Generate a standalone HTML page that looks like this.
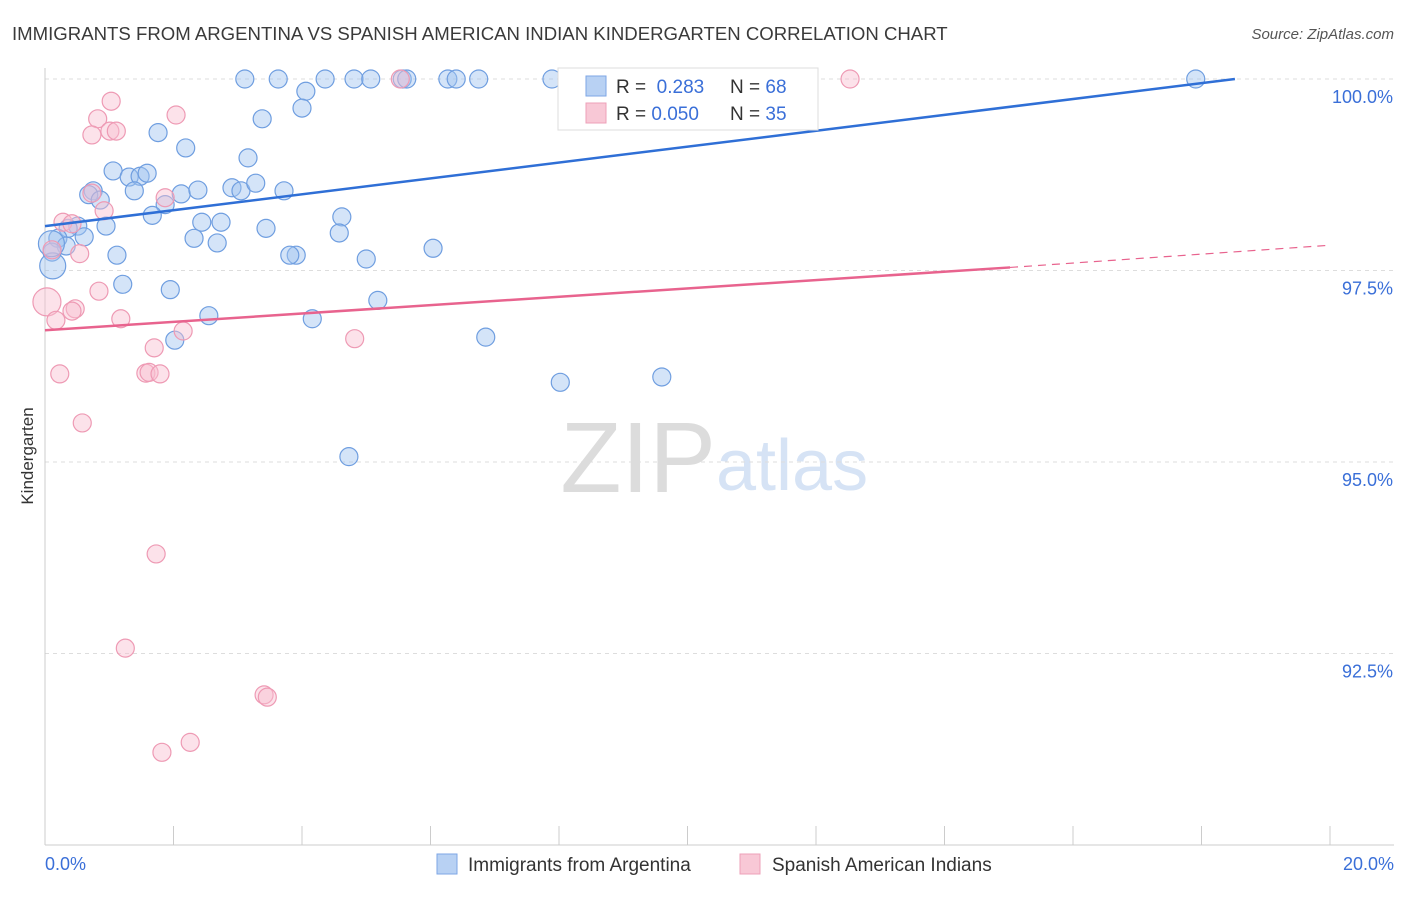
<!DOCTYPE html>
<html><head><meta charset="utf-8"><style>
body{margin:0;background:#fff;font-family:"Liberation Sans",sans-serif;}
svg text{font-family:"Liberation Sans",sans-serif;}
</style></head><body>
<svg id="chart" width="1406" height="892" xmlns="http://www.w3.org/2000/svg">
<text x="12" y="40" font-size="18.6" fill="#3a3a3a">IMMIGRANTS FROM ARGENTINA VS SPANISH AMERICAN INDIAN KINDERGARTEN CORRELATION CHART</text>
<text x="1394" y="39" font-size="15" fill="#555" text-anchor="end" font-style="italic">Source: ZipAtlas.com</text>
<text x="716" y="492" font-size="100" fill="#dcdcdc" text-anchor="end" font-family="Liberation Serif">ZIP</text>
<text x="716" y="490" font-size="72" fill="#d6e3f5">atlas</text>
<g id="grid"></g>
<g id="axes"></g>
<g id="marks"></g>
<text transform="translate(33,456) rotate(-90)" font-size="17" fill="#333" text-anchor="middle">Kindergarten</text>
<text x="45" y="870" font-size="18" fill="#3a6fd8">0.0%</text>
<text x="1394" y="870" font-size="18" fill="#3a6fd8" text-anchor="end">20.0%</text>
<g>
<rect x="558" y="68" width="260" height="62" fill="#fff" stroke="#ddd"/>
<rect x="586" y="76" width="20" height="20" fill="#b8d1f3" stroke="#7ea6e6"/>
<text x="616" y="93" font-size="19" fill="#333">R = <tspan fill="#3a6fd8">&#160;0.283</tspan></text>
<text x="730" y="93" font-size="19" fill="#333">N = <tspan fill="#3a6fd8">68</tspan></text>
<rect x="586" y="103" width="20" height="20" fill="#f8c8d6" stroke="#eea0b8"/>
<text x="616" y="120" font-size="19" fill="#333">R = <tspan fill="#3a6fd8">0.050</tspan></text>
<text x="730" y="120" font-size="19" fill="#333">N = <tspan fill="#3a6fd8">35</tspan></text>
</g>
<g>
<rect x="437" y="854" width="20" height="20" fill="#b8d1f3" stroke="#7ea6e6"/>
<text x="468" y="871" font-size="19" fill="#333">Immigrants from Argentina</text>
<rect x="740" y="854" width="20" height="20" fill="#f8c8d6" stroke="#eea0b8"/>
<text x="772" y="871" font-size="19" fill="#333">Spanish American Indians</text>
</g>
</svg>
<script>
const blueX=[3.11,3.63,4.36,4.81,5.07,5.56,5.63,6.27,6.40,6.75,7.89,8.19,8.93,17.91,10.83,4.06,4.00,3.38,1.76,2.19,3.16,1.06,1.31,1.48,1.59,0.75,1.39,0.68,0.86,2.12,2.38,2.91,3.05,3.28,3.72,1.87,1.67,2.44,2.74,4.62,0.95,0.51,0.36,3.44,2.32,2.68,4.58,0.61,0.20,0.33,0.11,1.12,3.91,3.81,5.00,6.04,0.12,1.21,1.95,5.18,2.55,4.16,2.02,6.86,8.02,9.60,4.73,0.10];
const blueY=[100,100,100,100,100,100,100,100,100,100,100,100,100,100,99.83,99.84,99.62,99.48,99.30,99.10,98.97,98.80,98.72,98.73,98.77,98.54,98.54,98.49,98.42,98.50,98.55,98.58,98.54,98.64,98.54,98.36,98.22,98.13,98.13,98.20,98.08,98.08,98.05,98.05,97.92,97.86,97.99,97.94,97.92,97.82,97.74,97.70,97.70,97.70,97.65,97.79,97.56,97.32,97.25,97.11,96.91,96.87,96.59,96.63,96.04,96.11,95.07,97.85];
const blueBig=[56,67];
const pinkX=[5.53,12.53,1.03,2.04,0.82,0.73,1.01,1.11,0.73,1.87,0.92,0.28,0.42,0.54,0.11,0.03,0.84,0.17,0.47,0.42,1.18,2.15,1.70,4.82,0.23,1.57,1.62,1.79,0.58,1.73,1.25,3.41,3.46,2.26,1.82];
const pinkY=[100,100,99.71,99.53,99.48,99.27,99.32,99.32,98.51,98.45,98.28,98.13,98.11,97.72,97.77,97.09,97.23,96.85,97.00,96.97,96.87,96.71,96.49,96.61,96.15,96.16,96.17,96.15,95.51,93.80,92.57,91.96,91.93,91.34,91.21];
const pinkBig=[15];
const yTicks=[100,97.5,95,92.5];
const yTickLabels=["100.0%","97.5%","95.0%","92.5%"];
const xTicks=[0,2,4,6,8,10,12,14,16,18,20];
const blueTrend=[[0,98.08],[18.52,100]];
const pinkTrend=[[0,96.72],[15.02,97.54],[20,97.83]];

const NS="http://www.w3.org/2000/svg";
const sx=v=>45+v*64.25;
const sy=v=>79+(100-v)*76.6;
function mk(tag,attrs,parent){const e=document.createElementNS(NS,tag);for(const k in attrs)e.setAttribute(k,attrs[k]);document.getElementById(parent).appendChild(e);return e;}
yTicks.forEach((t,i)=>{
  const g=mk('line',{x1:45,x2:1394,y1:sy(t),y2:sy(t),stroke:'#ddd','stroke-dasharray':'4,4'},'grid');
  
  
  const tx=mk('text',{x:1393,y:sy(t)+24,'font-size':18,fill:'#3a6fd8','text-anchor':'end'},'grid');
  tx.textContent=yTickLabels[i];
  
  
});
const ax=mk('line',{x1:45,x2:45,y1:68,y2:845,stroke:'#ccc'},'axes');


const bx=mk('line',{x1:45,x2:1394,y1:845,y2:845,stroke:'#ccc'},'axes');


xTicks.forEach(t=>{
  const l=mk('line',{x1:sx(t),x2:sx(t),y1:826,y2:845,stroke:'#ccc'},'axes');
  
  
});
blueX.forEach((x,i)=>{
  const c=mk('circle',{cx:sx(x),cy:sy(blueY[i]),r:blueBig.includes(i)?13:9,fill:'rgba(160,196,240,0.45)',stroke:'#6f9ee0','stroke-width':1.2},'marks');
  
  
});
pinkX.forEach((x,i)=>{
  const c=mk('circle',{cx:sx(x),cy:sy(pinkY[i]),r:pinkBig.includes(i)?14:9,fill:'rgba(248,190,208,0.45)',stroke:'#ee9ab4','stroke-width':1.2},'marks');
  
  
});
const bl=mk('line',{x1:sx(blueTrend[0][0]),y1:sy(blueTrend[0][1]),x2:sx(blueTrend[1][0]),y2:sy(blueTrend[1][1]),stroke:'#2f6fd6','stroke-width':2.5},'marks');


const pl=mk('line',{x1:sx(pinkTrend[0][0]),y1:sy(pinkTrend[0][1]),x2:sx(pinkTrend[1][0]),y2:sy(pinkTrend[1][1]),stroke:'#e8638e','stroke-width':2.5},'marks');


const pd=mk('line',{x1:sx(pinkTrend[1][0]),y1:sy(pinkTrend[1][1]),x2:sx(pinkTrend[2][0]),y2:sy(pinkTrend[2][1]),stroke:'#e8638e','stroke-width':1.2,'stroke-dasharray':'8,6'},'marks');


</script>
</body></html>
